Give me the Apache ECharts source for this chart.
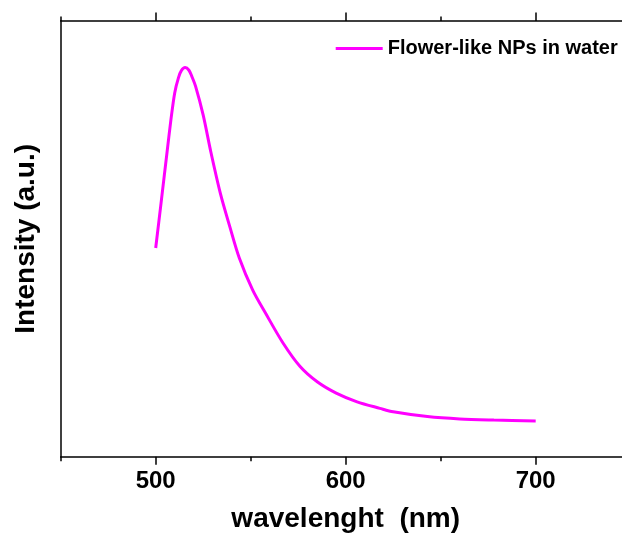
<!DOCTYPE html>
<html>
<head>
<meta charset="utf-8">
<script src="https://cdn.jsdelivr.net/npm/echarts@6/dist/echarts.min.js"></script>
<style>html,body{margin:0;padding:0;background:#fff;}#c{width:622px;height:533px;}</style>
</head>
<body>
<div id="c"></div>
<script>
const wavelength = [500, 503, 506, 508, 510, 512, 513.5, 515.5, 517.5, 519, 521, 525, 529, 534, 539, 544, 551, 558, 567, 576, 585, 595, 606, 618, 625, 643, 660, 678, 700];
const intensity  = [47.9, 58.9, 70.0, 77.3, 83.5, 87.0, 88.6, 89.3, 88.7, 87.3, 85.0, 78.4, 70.0, 60.5, 52.8, 45.6, 38.3, 32.8, 26.1, 20.7, 17.2, 14.6, 12.6, 11.1, 10.3, 9.2, 8.65, 8.4, 8.2];
const majorTicks = [500, 600, 700];
const seriesName = 'Flower-like NPs in water';
const xTitle = 'wavelenght  (nm)';
const yTitle = 'Intensity (a.u.)';

const FONT = '"Liberation Sans", Arial, sans-serif';
const axisColor = '#000';
const chart = echarts.init(document.getElementById('c'), null, {renderer: 'canvas'});
const base = {type: 'value', min: 450, max: 750, interval: 50, splitLine: {show: false}};
const data = wavelength.map((w, i) => [w, intensity[i]]);

chart.setOption({
  animation: false,
  backgroundColor: '#fff',
  grid: {left: 60.7, right: -8.7, top: 21, bottom: 76.3, containLabel: false, outerBoundsMode: 'none'},
  legend: {
    data: [{name: seriesName, icon: 'rect'}],
    left: 330.7, top: 33.5,
    itemWidth: 47, itemHeight: 3,
    textStyle: {fontSize: 20, fontWeight: 'bold', color: '#000', fontFamily: FONT}
  },
  xAxis: [
    Object.assign({}, base, {
      position: 'bottom',
      axisLine: {show: true, lineStyle: {color: axisColor, width: 1.5}},
      axisTick: {show: true, inside: false, length: 4.5, lineStyle: {color: axisColor, width: 1.5}},
      axisLabel: {
        show: true, margin: 13, color: '#000', fontSize: 24, fontWeight: 'bold', fontFamily: FONT,
        formatter: v => (majorTicks.indexOf(v) >= 0 ? String(v) : '')
      },
      name: xTitle, nameLocation: 'middle', nameGap: 49,
      nameTextStyle: {fontSize: 28, fontWeight: 'bold', color: '#000', fontFamily: FONT}
    }),
    Object.assign({}, base, {
      position: 'bottom',
      axisLine: {show: false},
      axisTick: {show: true, inside: false, length: 8, customValues: majorTicks, lineStyle: {color: axisColor, width: 1.5}},
      axisLabel: {show: false}
    }),
    Object.assign({}, base, {
      position: 'top',
      axisLine: {show: true, lineStyle: {color: axisColor, width: 1.5}},
      axisTick: {show: true, inside: false, length: 4.5, lineStyle: {color: axisColor, width: 1.5}},
      axisLabel: {show: false}
    }),
    Object.assign({}, base, {
      position: 'top',
      axisLine: {show: false},
      axisTick: {show: true, inside: false, length: 8.5, customValues: majorTicks, lineStyle: {color: axisColor, width: 1.5}},
      axisLabel: {show: false}
    })
  ],
  yAxis: {
    type: 'value', min: 0, max: 100,
    axisLine: {show: true, lineStyle: {color: axisColor, width: 1.5}},
    axisTick: {show: false},
    axisLabel: {show: false},
    splitLine: {show: false},
    name: yTitle, nameLocation: 'middle', nameGap: 20,
    nameTextStyle: {fontSize: 28, fontWeight: 'bold', color: '#000', fontFamily: FONT}
  },
  series: [{
    name: seriesName,
    type: 'line',
    xAxisIndex: 0,
    data: data,
    smooth: 0.3,
    symbol: 'none',
    lineStyle: {color: '#ff00ff', width: 3},
    itemStyle: {color: '#ff00ff'}
  }]
});
</script>
</body>
</html>
